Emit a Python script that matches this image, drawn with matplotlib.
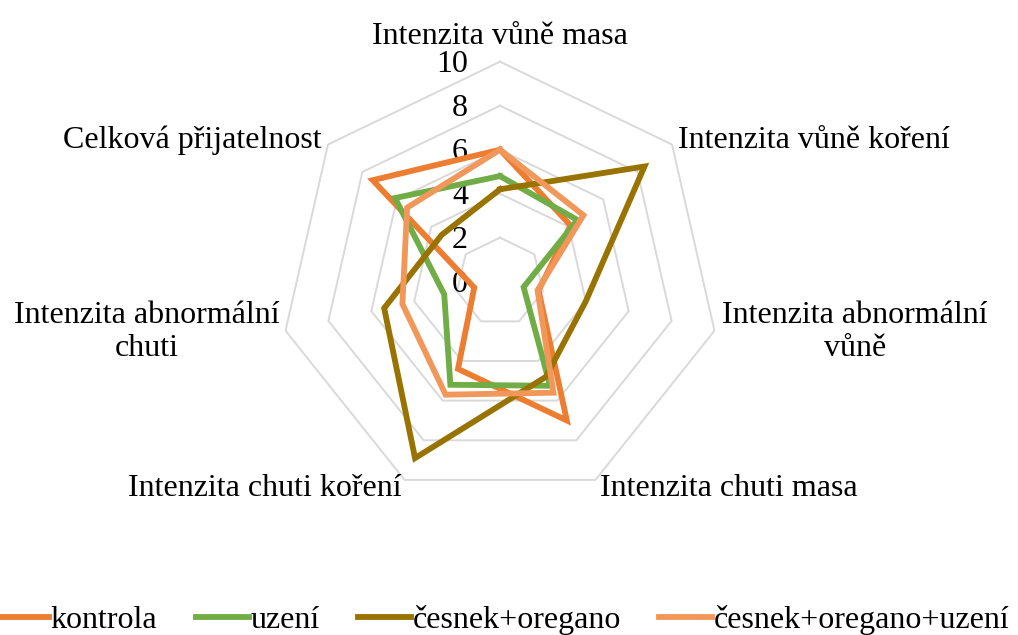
import numpy as np
import matplotlib
matplotlib.use("Agg")
import matplotlib.pyplot as plt

plt.rcParams["font.family"] = ["Liberation Serif", "DejaVu Serif"]

categories = [
    "Intenzita vůně masa",
    "Intenzita vůně koření",
    "Intenzita abnormální\nvůně",
    "Intenzita chuti masa",
    "Intenzita chuti koření",
    "Intenzita abnormální\nchuti",
    "Celková přijatelnost",
]
series_names = ["kontrola", "uzení", "česnek+oregano", "česnek+oregano+uzení"]
kontrola = [6.0, 4.1, 1.8, 7.0, 4.4, 1.2, 7.4]
uzeni = [4.8, 4.5, 1.1, 5.25, 5.2, 2.6, 6.1]
cesnek_oregano = [4.2, 8.4, 4.0, 4.8, 8.9, 5.4, 3.4]
cesnek_oregano_uzeni = [6.0, 4.85, 1.75, 5.6, 5.7, 4.55, 5.4]
ticks = [0, 2, 4, 6, 8, 10]

colors = ["#ED7D31", "#70AD47", "#997300", "#F1975A"]
fs = 23

W, H = 1018, 635
fig = plt.figure(figsize=(W / 100, H / 100), dpi=100)
cx, cy, R = 500, 281.7, 220
ax = fig.add_axes([(cx - R) / W, (H - cy - R) / H, 2 * R / W, 2 * R / H], projection="polar")
ax.set_theta_zero_location("N")
ax.set_theta_direction(-1)
ax.set_ylim(0, 10)
ax.grid(False)
ax.spines["polar"].set_visible(False)
ax.set_xticks([])
ax.set_yticks([])
ax.patch.set_alpha(0)

n = len(categories)
angles = np.arange(n) * 2 * np.pi / n
closed = np.append(angles, angles[0])

# heptagon grid
for t in ticks[1:]:
    ax.plot(closed, [t] * (n + 1), color="#D9D9D9", lw=1.4, zorder=1, clip_on=False)

# tick labels
for t in ticks:
    ax.annotate(str(t), xy=(0, t), xytext=(-23, -2), textcoords="offset points",
                ha="right", va="center", fontsize=fs, annotation_clip=False)

# series
data = [kontrola, uzeni, cesnek_oregano, cesnek_oregano_uzeni]
for name, vals, c in zip(series_names, data, colors):
    ax.plot(closed, vals + vals[:1], color=c, lw=4.2, label=name, zorder=3,
            clip_on=False, solid_joinstyle="miter")

# category labels
offsets = [
    ((0, 18.5), "center", "center"),
    ((4.3, 3.0), "left", "center"),
    ((5.4, -1), "left", "center"),
    ((3.2, -6.5), "left", "center"),
    ((-1.8, -6.5), "right", "center"),
    ((-4.0, -1), "right", "center"),
    ((-4.3, 3.0), "right", "center"),
]
for ang, lab, (off, ha, va) in zip(angles, categories, offsets):
    ax.annotate(lab, xy=(ang, 10), xytext=off, textcoords="offset points",
                ha=ha, va=va, multialignment="center", fontsize=fs,
                annotation_clip=False)

fig.legend(loc="center", bbox_to_anchor=(503 / W, 1 - 620 / H), ncol=4,
           frameon=False, fontsize=fs, handlelength=1.65, handletextpad=0.06,
           columnspacing=1.2, borderpad=0, borderaxespad=0)

fig.savefig("out.png", dpi=100)
